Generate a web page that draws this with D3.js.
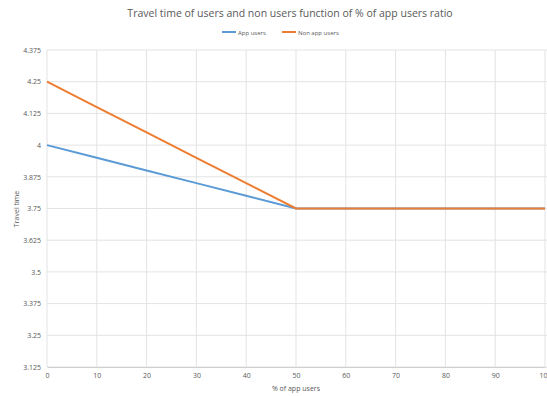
<!DOCTYPE html>
<html><head><meta charset="utf-8">
<script src="https://cdn.jsdelivr.net/npm/d3@7"></script>
<style>body{margin:0;background:#fff}svg{display:block}text{font-family:"Open Sans","Noto Sans",sans-serif;fill:#595959}</style>
</head><body>
<script>
const xValues = [0,10,20,30,40,50,60,70,80,90,100];
const appUsers = [4,3.95,3.9,3.85,3.8,3.75,3.75,3.75,3.75,3.75,3.75];
const nonAppUsers = [4.25,4.15,4.05,3.95,3.85,3.75,3.75,3.75,3.75,3.75,3.75];
const yTicks = [3.125,3.25,3.375,3.5,3.625,3.75,3.875,4,4.125,4.25,4.375];
const xTicks = [0,10,20,30,40,50,60,70,80,90,100];
const seriesNames = ["App users","Non app users"];
const colors = ["#5B9BD5","#ED7D31"];

const W=547,H=396;
const svg=d3.select("body").append("svg").attr("width",W).attr("height",H);
const x=d3.scaleLinear().domain([0,100]).range([47,545]);
const y=d3.scaleLinear().domain([3.125,4.375]).range([367,50]);

// grid
svg.append("g").selectAll("line").data(yTicks).join("line")
 .attr("x1",47).attr("x2",547).attr("y1",d=>y(d)).attr("y2",d=>y(d))
 .attr("stroke","#e3e3e3").attr("stroke-width",1);
svg.append("g").selectAll("line").data(xTicks).join("line")
 .attr("y1",50).attr("y2",367).attr("x1",d=>x(d)).attr("x2",d=>x(d))
 .attr("stroke","#e3e3e3").attr("stroke-width",1);

// axes
const xa=svg.append("g").attr("transform","translate(0,367)")
 .call(d3.axisBottom(x).tickValues(xTicks).tickSize(0).tickPadding(6).tickFormat(d3.format("d")));
xa.select(".domain").attr("stroke","#d0d0d0");
xa.selectAll("text").style("font-size","7px");
const ya=svg.append("g").attr("transform","translate(47,0)")
 .call(d3.axisLeft(y).tickValues(yTicks).tickSize(0).tickPadding(6).tickFormat(d=>String(d)));
ya.select(".domain").remove();
ya.selectAll("text").style("font-size","7px");

// lines
const line=d3.line().x((d,i)=>x(xValues[i])).y(d=>y(d));
[appUsers,nonAppUsers].forEach((s,i)=>{
 svg.append("path").datum(s).attr("d",line).attr("fill","none")
  .attr("stroke",colors[i]).attr("stroke-width",2);
});

// title
svg.append("text").attr("x",290).attr("y",17).attr("text-anchor","middle")
 .style("font-size","10.5px").text("Travel time of users and non users function of % of app users ratio");

// legend
const lg=svg.append("g");
const items=[{x:222},{x:282}];
seriesNames.forEach((n,i)=>{
 const lx=items[i].x;
 lg.append("line").attr("x1",lx).attr("x2",lx+14).attr("y1",32).attr("y2",32).attr("stroke",colors[i]).attr("stroke-width",2);
 lg.append("text").attr("x",lx+16).attr("y",34.5).style("font-size","6px").text(n);
});

// axis titles
svg.append("text").attr("x",296).attr("y",391).attr("text-anchor","middle").style("font-size","7px").text("% of app users");
svg.append("text").attr("transform","translate(19,209) rotate(-90)").attr("text-anchor","middle").style("font-size","7px").text("Travel time");
</script>
</body></html>
